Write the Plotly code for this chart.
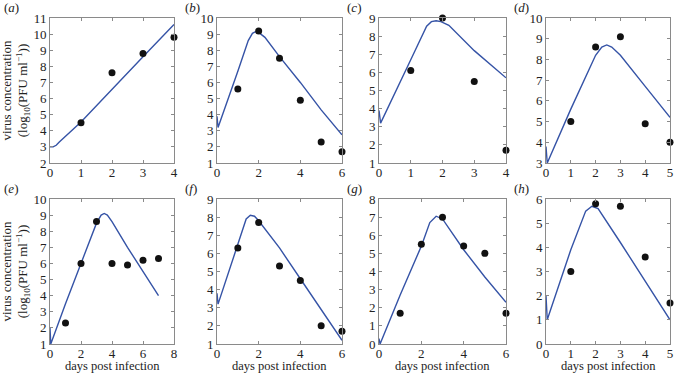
import plotly.graph_objects as go

W, H = 674, 373

# ---- data: observed points (days, log10 PFU/ml) ----
obs_a_t = [1, 2, 3, 4]
obs_a_v = [4.5, 7.6, 8.8, 9.8]
obs_b_t = [1, 2, 3, 4, 5, 6]
obs_b_v = [5.6, 9.2, 7.5, 4.9, 2.3, 1.7]
obs_c_t = [1, 2, 3, 4]
obs_c_v = [6.1, 9.0, 5.5, 1.7]
obs_d_t = [1, 2, 3, 4, 5]
obs_d_v = [5.0, 8.6, 9.1, 4.9, 4.0]
obs_e_t = [1, 2, 3, 4, 5, 6, 7]
obs_e_v = [2.3, 6.0, 8.6, 6.0, 5.9, 6.2, 6.3]
obs_f_t = [1, 2, 3, 4, 5, 6]
obs_f_v = [6.3, 7.7, 5.3, 4.5, 2.0, 1.7]
obs_g_t = [1, 2, 3, 4, 5, 6]
obs_g_v = [1.7, 5.5, 7.0, 5.4, 5.0, 1.7]
obs_h_t = [1, 2, 3, 4, 5]
obs_h_v = [3.0, 5.8, 5.7, 3.6, 1.7]

# ---- data: model curves ----
fit_a_t = [0, 0.1, 0.2, 0.3, 1, 2, 3, 4]
fit_a_v = [3.0, 3.0, 3.1, 3.3, 4.55, 6.6, 8.6, 10.6]
fit_b_t = [0, 0.05, 1, 1.5, 1.7, 1.85, 2.0, 2.3, 3, 4, 5, 6]
fit_b_v = [3.9, 3.2, 6.7, 8.6, 9.05, 9.15, 9.1, 8.8, 7.6, 6.0, 4.3, 2.75]
fit_c_t = [0, 0.05, 1, 1.5, 1.65, 1.8, 1.95, 2.2, 3, 4]
fit_c_v = [3.9, 3.2, 6.7, 8.55, 8.8, 8.85, 8.8, 8.6, 7.2, 5.7]
fit_d_t = [0, 0.05, 1, 2, 2.25, 2.45, 2.65, 3, 4, 5]
fit_d_v = [3.8, 3.0, 5.6, 8.2, 8.6, 8.7, 8.6, 8.2, 6.7, 5.2]
fit_e_t = [0, 0.05, 1, 2, 3, 3.3, 3.5, 3.7, 4, 5, 6, 7]
fit_e_v = [2.0, 1.0, 3.5, 6.0, 8.5, 9.0, 9.1, 9.0, 8.6, 7.0, 5.5, 4.0]
fit_f_t = [0, 0.05, 1, 1.4, 1.6, 1.8, 2, 3, 4, 5, 6]
fit_f_v = [3.8, 3.2, 6.5, 7.9, 8.1, 8.05, 7.8, 6.3, 4.6, 2.9, 1.2]
fit_g_t = [0, 0.05, 1, 2, 2.4, 2.7, 3.0, 4, 5, 6]
fit_g_v = [0.3, 0.0, 2.7, 5.4, 6.7, 7.05, 6.9, 5.2, 3.7, 2.3]
fit_h_t = [0, 0.05, 1, 1.6, 1.85, 2.1, 3, 4, 5]
fit_h_v = [2.0, 1.0, 3.9, 5.5, 5.7, 5.6, 4.2, 2.6, 1.0]

panels = [
    ("a", obs_a_t, obs_a_v, fit_a_t, fit_a_v, [0, 4], [2, 11], 1, 1),
    ("b", obs_b_t, obs_b_v, fit_b_t, fit_b_v, [0, 6], [1, 10], 2, 1),
    ("c", obs_c_t, obs_c_v, fit_c_t, fit_c_v, [0, 4], [1, 9], 1, 1),
    ("d", obs_d_t, obs_d_v, fit_d_t, fit_d_v, [0, 5], [3, 10], 1, 1),
    ("e", obs_e_t, obs_e_v, fit_e_t, fit_e_v, [0, 8], [1, 10], 2, 1),
    ("f", obs_f_t, obs_f_v, fit_f_t, fit_f_v, [0, 6], [1, 9], 2, 1),
    ("g", obs_g_t, obs_g_v, fit_g_t, fit_g_v, [0, 6], [0, 8], 2, 1),
    ("h", obs_h_t, obs_h_v, fit_h_t, fit_h_v, [0, 5], [0, 6], 1, 1),
]

# plot-area pixel boxes (left, right) and (top, bottom)
xpix = [(50, 174), (217, 342), (379, 506), (546, 670)]
ypix = [(18, 163), (199, 344)]

FONT = "Liberation Serif, Times New Roman, serif"
LINE_COL = "#3553a6"
BOX_COL = "#8a8a8a"
TXT = "#222"

fig = go.Figure()
layout = dict(
    width=W, height=H,
    margin=dict(l=0, r=0, t=0, b=0, pad=0, autoexpand=False),
    paper_bgcolor="white", plot_bgcolor="white",
    showlegend=False,
    font=dict(family=FONT, size=13, color=TXT),
)
annotations = []

for i, (lab, ot, ov, ft, fv, xr, yr, xd, yd) in enumerate(panels):
    row, col = divmod(i, 4)
    n = i + 1
    xs = "x" if n == 1 else f"x{n}"
    ys = "y" if n == 1 else f"y{n}"
    fig.add_trace(go.Scatter(x=ft, y=fv, mode="lines", xaxis=xs, yaxis=ys,
                             line=dict(color=LINE_COL, width=1.4), cliponaxis=True))
    fig.add_trace(go.Scatter(x=ot, y=ov, mode="markers", xaxis=xs, yaxis=ys,
                             marker=dict(color="#111", size=7), cliponaxis=False))
    l, r = xpix[col]
    t, b = ypix[row]
    ax_common = dict(showgrid=False, zeroline=False, showline=True, mirror="ticks",
                     linecolor=BOX_COL, linewidth=1, ticks="inside", ticklen=3,
                     tickcolor=BOX_COL, automargin=False,
                     tickfont=dict(family=FONT, size=13, color=TXT))
    layout["xaxis" if n == 1 else f"xaxis{n}"] = dict(
        domain=[l / W, r / W], range=xr, dtick=xd, anchor=ys,
        ticklabelstandoff=-3, **ax_common)
    layout["yaxis" if n == 1 else f"yaxis{n}"] = dict(
        domain=[1 - b / H, 1 - t / H], range=yr, dtick=yd, anchor=xs, **ax_common)
    # panel letter
    annotations.append(dict(text=f"(<i>{lab}</i>)", xref="paper", yref="paper",
                            x=(l - 48) / W if col == 0 else (l - 34) / W,
                            y=1 - (t - 11) / H, xanchor="left", yanchor="middle",
                            showarrow=False, font=dict(family=FONT, size=13, color=TXT)))
    if row == 1:
        annotations.append(dict(text="days post infection", xref="paper", yref="paper",
                                x=(l + r) / 2 / W, y=1 - 366 / H, xanchor="center",
                                yanchor="middle", showarrow=False,
                                font=dict(family=FONT, size=12.5, color=TXT)))
    if col == 0:
        annotations.append(dict(
            text="virus concentration<br>(log<sub>10</sub>(PFU ml<sup>\u22121</sup>))",
            xref="paper", yref="paper", x=15 / W, y=1 - (t + b) / 2 / H,
            xanchor="center", yanchor="middle", textangle=-90, showarrow=False,
            font=dict(family=FONT, size=13, color=TXT)))

layout["annotations"] = annotations
fig.update_layout(**layout)
fig.write_html("out.html", config={"displayModeBar": False},
               post_script="document.body.style.margin='0';document.body.style.overflow='hidden';")
